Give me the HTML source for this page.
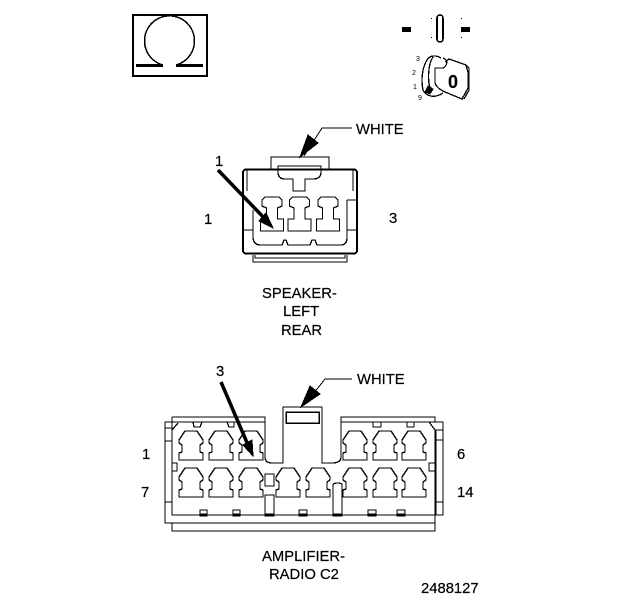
<!DOCTYPE html>
<html><head><meta charset="utf-8"><style>
html,body{margin:0;padding:0;background:#fff}
svg{display:block}
text{font-family:"Liberation Sans",sans-serif;font-size:14.800px;fill:#000;stroke:#000;stroke-width:.2}
.l{fill:none;stroke:#000;stroke-width:1.300}
</style></head><body>
<svg width="624" height="600" viewBox="0 0 624 600" xmlns="http://www.w3.org/2000/svg" shape-rendering="crispEdges">
<defs>
<path id="c" class="l" d="M-6 0H6L12 9V12L9 14V21L12 22V29H-12V22L-9 21V14L-12 12V9Z"/>
<path id="s" class="l" d="M-7 0H7L10 3V9L5.500 11V22H11.500V34H-11.500V22H-5.500V11L-10 9V3Z"/>
</defs>
<!-- omega -->
<rect x="133" y="15" width="74" height="61" fill="none" stroke="#000" stroke-width="2"/>
<path d="M163 65A25 25 0 1 1 176 65" fill="none" stroke="#000" stroke-width="1.500"/>
<path d="M136 65.500H163M176 65.500H203" stroke="#000" stroke-width="3"/>
<!-- key -->
<rect x="402" y="27" width="9" height="5"/><rect x="461" y="27" width="9" height="5"/>
<rect x="437" y="15" width="6" height="27" rx="3" fill="none" stroke="#000" stroke-width="1.600"/>
<path d="M431.500 18v1M431.500 37v1M461.500 18v1M461.500 37v1" stroke="#000"/>
<path class="l" d="M441 58C436 55 430 55 427 60C422 68 421 80 423 90C426 96 434 99 443 93"/>
<path class="l" d="M433 57C428 64 427 82 431 90"/>
<path class="l" d="M443 58C449 60 447 66 443 68H435V83C437 88 441 90 445 92"/>
<path class="l" d="M445 62L449 59L466 65L468 72V88L462 99L445 92"/>
<path class="l" d="M466 65L469 68V90L464 99"/>
<path d="M428 86l5 3-3 5-5-2z" stroke="#000"/>
<text x="448" y="88" style="font-size:18px;font-weight:bold">0</text>
<text x="416" y="61" style="font-size:7px;stroke-width:0">3</text><text x="412" y="75" style="font-size:7px;stroke-width:0">2</text><text x="413" y="89" style="font-size:7px;stroke-width:0">1</text><text x="418" y="100" style="font-size:7px;stroke-width:0">9</text>
<!-- speaker connector -->
<path d="M352 128H322L304 156" fill="none" stroke="#000" stroke-width="1"/>
<path d="M300 157L308 135L318 143Z" stroke="#000"/>
<text x="356" y="134">WHITE</text>
<text x="215" y="166">1</text>
<text x="204" y="224">1</text>
<text x="389" y="223">3</text>
<rect x="243" y="169.500" width="114" height="84" rx="3" fill="none" stroke="#000" stroke-width="2"/>
<path class="l" d="M271 169V157H329V169M278 166V172Q278 179 285 179H293V191H305V179H313Q321 179 321 172V166ZM278 166H321"/>
<path class="l" d="M247 170V191M353 170V191M253 210V238Q254 245 260 245H282L284 240H286L288 245H310L312 240H315L317 245H342Q347 244 347 238V200M347 200H356M243 230H253M347 230H356"/>
<path class="l" d="M253 255V262H347V255M255 255V258H345V255"/>
<use href="#s" x="272" y="197"/><use href="#s" x="299.500" y="197"/><use href="#s" x="328" y="197"/>
<path d="M218 170L268 222" stroke="#000" stroke-width="3.500" shape-rendering="auto"/>
<path d="M273 228L259 221L266 213Z" stroke="#000"/>
<text x="262" y="298">SPEAKER-</text>
<text x="283" y="316">LEFT</text>
<text x="281" y="335">REAR</text>
<!-- amplifier connector -->
<path d="M352 379H325L306 403" fill="none" stroke="#000" stroke-width="1"/>
<path d="M301 407L310 386L320 394Z" stroke="#000"/>
<text x="357" y="384">WHITE</text>
<text x="216" y="376">3</text>
<text x="142" y="459">1</text><text x="141" y="497">7</text>
<text x="457" y="459">6</text><text x="457" y="497">14</text>
<path class="l" d="M172 417H265V457Q265 463 272 463H283V407H322V463H332Q341 463 341 457V417H435V422"/>
<rect x="286" y="412" width="33" height="11" fill="none" stroke="#000" stroke-width="1.500"/>
<path class="l" d="M172 417V515H443V422H341M265 422H165V523H435V515M172 523V531H435V523"/>
<path class="l" d="M172 430L178 423M429 422L435 430"/>
<path d="M435.500 430V515" stroke="#000" stroke-width="2"/>
<path class="l" d="M172 428H165M172 441H165M172 502H165M435 430H443M435 440H443M435 502H443"/>
<rect x="172" y="463" width="5" height="8" class="l" style="fill:#fff"/>
<rect x="429" y="463" width="6" height="8" class="l"/>
<path class="l" d="M193 422L194 427H200L202 422M227 422L229 427H234V422M373 422V427H381V422M407 422V427H414V422"/>
<use href="#c" x="191" y="431"/><use href="#c" x="221" y="431"/><use href="#c" x="251" y="431"/>
<use href="#c" x="355" y="431"/><use href="#c" x="385" y="431"/><use href="#c" x="414" y="431"/>
<use href="#c" x="191" y="468"/><use href="#c" x="221" y="468"/><use href="#c" x="251" y="468"/><use href="#c" x="288" y="468"/><use href="#c" x="318" y="468"/><use href="#c" x="355" y="468"/><use href="#c" x="385" y="468"/><use href="#c" x="414" y="468"/>
<rect x="265" y="474" width="9" height="12" class="l"/>
<path class="l" d="M265 515V495H274V515M333 515V485Q333 483 338 483Q342 483 342 485V515"/>
<path class="l" d="M200 515V510H207V515M233 515V510H240V515M299 515V510H307V515M368 515V510H376V515M397 515V510H405V515"/>
<path d="M200 514h7v2h-7zM233 514h7v2h-7zM265 514h9v2h-9zM299 514h8v2h-8zM333 514h9v2h-9zM368 514h8v2h-8zM397 514h8v2h-8z" stroke="#000"/>
<path d="M221 382L248 445" stroke="#000" stroke-width="3.500" shape-rendering="auto"/>
<path d="M253 456L243 445L252 440Z" stroke="#000"/>
<text x="262" y="561">AMPLIFIER-</text>
<text x="269" y="579">RADIO C2</text>
<text x="421" y="593">2488127</text>
</svg>
</body></html>
